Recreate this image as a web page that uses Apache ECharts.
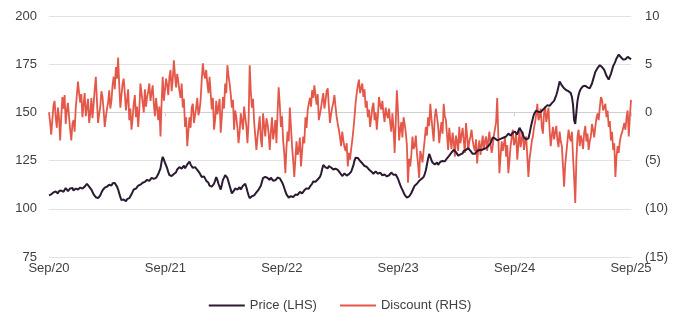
<!DOCTYPE html>
<html>
<head>
<meta charset="utf-8">
<script src="https://cdn.jsdelivr.net/npm/echarts@6/dist/echarts.min.js"></script>
<style>
html,body{margin:0;padding:0;background:#fff;}
#chart{width:680px;height:327px;}
</style>
</head>
<body>
<div id="chart"></div>
<script>
// Year tick labels along the bottom axis (one per year, Sep/20 .. Sep/25)
const tickLabels = ['Sep/20', 'Sep/21', 'Sep/22', 'Sep/23', 'Sep/24', 'Sep/25'];

// Share price (left axis), two observations per week
const price = [
  107,106.2,107.5,108.5,108.5,107.8,109,108.2,108,109.2,108.5,109.5,110,108.8,109.5,110.8,110.5,109.2,109.5,110.6,
  110,110.8,109.5,110.2,110.5,111.2,110,110.6,111,111.8,110.5,111,111.5,112.5,113,112.2,111.5,112,110,109,
  107.5,106.5,106,105,105.5,106.2,107,108.4,109.5,110.5,111,110.2,111.5,112.2,112.5,111.5,112,113.2,114,113.4,
  112.5,111.5,110,108,106,104.5,103.7,104.8,104.5,103.9,105,105.8,105.5,106.5,107.5,108.8,110,109.5,110.5,111.4,
  112,111.5,112.5,113.2,113.5,112.8,114,114.6,115,114,114.5,115.4,116,115,115.5,116.5,116,117,118,119.5,
  121,124.5,127,125.5,124,122.5,121,119,117.5,118.4,117,117.8,118,118.6,119,120.4,121,121.6,122,120.8,
  121.5,122.4,121,122,123,123.8,124.5,123,122,121.2,120.5,121.6,121,120.2,119.5,118.6,118,116.5,115.5,116.8,
  116,114.6,115,113.5,112,112.8,111.5,112.2,113,114.6,116.5,115,113,111.5,110,112.4,115,116.2,117.5,117,
  116,114,112,110,108,108.6,109.5,110.6,111,110,110.5,111.2,110,111,112,112.8,113,111.2,109,107,
  105.5,106.2,106.5,106,107,107.8,108.5,109.2,110,111,112,114,116,115.4,116.5,117,116,115.2,115,116.2,
  115.5,114.6,114,114.8,115.5,116.2,116.5,115.8,115,113.8,112.5,110.8,109,107.5,106.5,105.8,106,106.6,107,106,
  106.5,107.4,108,107.2,108,108.8,108.5,108,109,109.6,110,110.6,111,110.4,111.5,112.2,113,114.2,115,114,
  114.5,115.2,115.5,116.6,118,120.5,122.7,122,121.5,120.6,121,122.2,122,121.4,121,120.4,120,120.8,121,120.2,
  119.5,118.6,118,117,117.5,118.4,118,117.2,117.5,118,118.5,119.2,120,122.5,125,126.5,127.5,126.4,125.5,124.8,
  124.5,123.6,123,122.2,121.5,121.8,121,120.4,120,119.4,119,118.2,118.5,119.4,119,118.2,118.5,118.8,118,117.4,
  117,117.8,117.5,116.8,116.5,117.4,118,118.8,118.5,117.6,118,117.8,117,115.6,114,112.4,111,109.8,108.5,107.2,
  106.5,105.8,105.5,106.4,107,108.2,109.5,110.8,112,112.6,113,113.8,114.5,115,115.5,116.2,116.5,118,120,123,
  126,128.5,127,125.2,124,123.2,123,123.8,124,122.8,123.5,124.4,124,124.8,125.5,124.6,125,126.2,127,127.6,
  128.5,129.2,129.5,130.6,130,129.4,128.5,127.6,127.5,128.2,127.5,128.8,130,129.6,130.5,131.2,131.5,130.8,130,129,
  128.5,129.4,128.5,129.2,130,130.8,130.5,130,130.5,131.2,131,130.6,131.5,132.2,132.5,133.2,134,135.5,137,137.4,
  136.5,135.8,135.5,136.4,136,135.6,136.5,137.2,137,136.6,137.5,138.2,139,138.6,138,138.8,139.5,140.4,140,139.5,
  138.5,140.5,142,141.2,140,138.5,137,136.2,136,135.5,136.5,139,142,144.5,147,149,150,151,150.5,150.2,
  151,150.2,150.5,151.4,152,152.6,153,153.8,154,153.4,154,154.8,155,156,157,159,161,163.5,166,165.2,
  164,163,162.5,161.8,161.5,162.2,161,160.4,160,158,154,146,144,150,156,159,161,162.2,163,163.6,
  163,163.8,164,163,162,162.5,163,165,167,169,171,172,173,174,174.5,174.8,173.5,172.8,172,170.5,
  169,168,167,168.5,170,172,174,175.2,176.5,178,179,180,179.5,178.6,178,177.4,177,177.6,178,178.8,
  178.5,178,177.5
];

// Premium / discount to NAV in % (right axis; negative = discount), two observations per week
const discount = [
  0.0,-1.0,-2.3,-0.8,0.7,1.2,-0.5,-1.6,0.5,-0.6,-2.9,-0.4,1.6,0.4,1.8,-1.2,0.2,1.0,-0.5,-1.8,
  -2.9,-1.2,-0.8,-2.0,0.5,1.8,3.2,2.0,1.0,1.9,-0.5,0.8,2.0,-0.4,0.5,1.4,-1.1,-0.2,1.5,-0.6,
  0.8,2.4,3.7,1.2,-1.1,-0.2,0.6,2.2,1.6,0.2,-1.5,-0.5,0.4,1.0,2.3,0.4,1.2,2.8,3.7,2.4,
  4.7,3.5,5.7,2.8,0.5,1.8,3.0,3.5,2.0,0.2,1.3,2.4,-0.8,0.4,-1.8,-0.6,0.9,1.8,-0.5,0.6,
  -1.5,0.2,3.0,2.0,1.0,0.0,2.4,0.6,1.6,2.2,3.0,1.2,2.0,2.8,0.9,-0.4,1.5,0.4,-0.8,0.6,
  -2.5,1.0,3.7,1.2,2.3,3.5,2.8,1.8,3.7,4.4,2.2,3.4,5.4,3.8,2.6,4.0,3.2,2.2,1.5,3.0,
  0.5,1.4,-1.5,-0.5,-3.5,-2.0,-0.5,-1.6,0.5,0.9,-1.1,-0.3,0.5,1.5,-0.3,0.2,1.3,3.4,5.1,4.0,
  3.5,4.4,3.0,2.0,3.7,2.0,0.3,1.5,-1.8,-0.8,1.2,-0.2,0.5,1.4,-2.1,-0.5,1.6,0.4,3.0,2.0,
  4.9,3.8,3.0,1.9,0.5,1.3,-1.8,0.2,-0.5,-1.6,-3.2,-2.0,-0.1,-0.9,-1.8,0.6,-0.5,-1.4,-3.2,-1.0,
  4.9,2.2,0.5,1.4,-1.0,-2.4,-3.9,-2.6,-1.5,-0.4,-2.8,-3.6,-0.1,-1.4,-2.5,-0.6,-1.2,-2.2,-3.9,-2.0,
  -0.5,-2.8,-2.0,-0.8,-3.2,0.0,2.6,0.8,-1.5,-0.4,-2.9,-4.2,-6.3,-3.6,-2.0,-3.0,0.5,-1.5,-3.5,-5.0,
  -6.7,-4.8,-3.0,-4.4,-3.9,-2.6,-5.6,-4.0,-2.5,-3.2,-0.5,-1.6,0.2,0.9,1.5,0.6,2.3,1.5,2.8,1.8,
  0.8,1.9,-0.8,-0.2,0.5,1.3,2.0,0.4,1.2,2.2,2.5,0.6,-1.1,-0.2,0.5,1.0,1.8,0.6,-0.5,-1.2,
  -1.8,-2.6,-3.5,-2.0,-2.9,-3.6,-4.0,-3.2,-5.6,-4.2,-4.9,-3.8,-2.9,-1.8,-0.5,1.0,2.0,2.8,3.4,2.0,
  2.5,3.0,1.6,2.4,0.5,1.2,-0.5,0.3,-1.5,-0.6,0.5,1.0,-0.8,0.0,-1.8,-0.3,1.6,0.8,0.3,1.2,
  -0.1,-1.0,0.5,-0.2,-0.6,0.4,-1.1,-2.0,-0.1,-1.6,-4.2,-1.0,2.3,0.2,-2.9,-1.8,-1.0,-2.6,-0.5,-1.2,
  -2.1,-3.4,-7.3,-4.8,-5.6,-4.4,-2.5,-3.8,-3.5,-2.4,-4.2,-5.4,-6.8,-4.0,-4.5,-5.2,-3.9,-2.8,-1.5,-2.4,
  -0.5,-1.4,0.9,-0.6,-1.8,-3.0,-0.5,0.4,0.2,-1.4,-3.2,-2.0,-1.0,-2.2,0.9,-0.4,-0.8,-2.4,-3.9,-1.6,
  -2.8,-3.8,-2.1,-3.0,-4.6,-2.4,-3.0,-4.0,-1.5,-3.2,-2.4,-1.6,-2.9,-4.2,-1.1,-2.4,-3.9,-3.0,-2.5,-1.8,
  -2.9,-3.6,-4.0,-2.8,-5.3,-3.8,-2.9,-4.4,-3.4,-2.4,-3.9,-3.0,-2.5,-4.0,-2.9,-2.0,-3.3,-4.2,-3.5,-2.4,
  -2.6,-1.0,1.5,-2.4,-6.3,-4.6,-3.0,-4.0,-3.9,-2.6,-4.6,-3.4,-6.3,-5.0,-3.5,-2.6,-1.8,-3.4,-3.0,-2.2,
  -4.9,-3.4,-1.8,-3.6,-2.8,-2.0,-3.9,-3.0,-2.5,-4.6,-6.7,-4.8,-4.0,-3.0,-2.5,-1.6,-1.0,-0.2,0.9,-0.8,
  -0.5,0.4,-1.5,-2.2,-0.1,0.6,-1.0,-0.3,0.5,-1.8,-3.5,-2.4,-1.5,-2.8,-2.1,-1.4,-2.9,-3.6,-2.0,-3.0,
  -3.5,-5.6,-7.7,-5.4,-4.2,-3.0,-1.8,-2.6,-3.0,-2.0,-4.6,-6.8,-9.4,-5.0,-2.5,-1.8,-3.5,-2.4,-2.9,-3.8,
  -2.1,-1.4,-3.0,-2.2,-3.9,-3.0,-2.5,-1.2,-1.8,-2.6,-1.5,-0.6,-0.1,-0.8,0.5,1.6,1.3,0.2,0.5,0.9,
  -0.5,0.2,-1.5,-0.9,-2.9,-2.0,-3.9,-3.2,-6.7,-4.6,-3.5,-4.2,-3.0,-2.4,-2.1,-1.6,-1.1,-1.8,-0.5,0.2,
  -2.5,-0.4,1.3
];

// Place each observation in years from the first tick (0 = Sep/20, 5 = Sep/25)
const toYears = (arr) => arr.map((v, i) => [i * 5 / (arr.length - 1), v]);

const textColor = '#404040';
const font = 'Liberation Sans, Arial, sans-serif';
const priceColor = '#2b1a31';
const discountColor = '#e4584a';

const chart = echarts.init(document.getElementById('chart'), null, { renderer: 'canvas' });
chart.setOption({
  animation: false,
  backgroundColor: '#ffffff',
  grid: { left: 49, right: 49, top: 16, bottom: 70, containLabel: false },
  legend: {
    bottom: 10,
    left: 'center',
    itemGap: 23,
    itemWidth: 36,
    itemHeight: 2,
    icon: 'rect',
    textStyle: { color: textColor, fontSize: 13, fontFamily: font },
    data: [
      { name: 'Price (LHS)', itemStyle: { color: priceColor } },
      { name: 'Discount (RHS)', itemStyle: { color: discountColor } }
    ]
  },
  xAxis: {
    type: 'value',
    min: 0,
    max: 5,
    interval: 1,
    axisLine: { show: true, lineStyle: { color: '#d0d0d0', width: 1 } },
    axisTick: { show: true, length: 4, lineStyle: { color: '#d0d0d0' } },
    splitLine: { show: false },
    axisLabel: {
      color: textColor, fontSize: 13, fontFamily: font, margin: 5,
      formatter: (v) => tickLabels[Math.round(v)] || ''
    }
  },
  yAxis: [
    {
      type: 'value',
      min: 75, max: 200, interval: 25,
      axisLine: { show: false },
      axisTick: { show: false },
      splitLine: { show: true, lineStyle: { color: '#e2e2e2', width: 1 } },
      axisLabel: { color: textColor, fontSize: 13, fontFamily: font, margin: 12 }
    },
    {
      type: 'value',
      min: -15, max: 10, interval: 5,
      axisLine: { show: false },
      axisTick: { show: false },
      splitLine: { show: false },
      axisLabel: {
        color: textColor, fontSize: 13, fontFamily: font, margin: 14,
        formatter: (v) => v < 0 ? '(' + Math.abs(v) + ')' : String(v)
      }
    }
  ],
  series: [
    {
      name: 'Discount (RHS)',
      type: 'line',
      yAxisIndex: 1,
      data: toYears(discount),
      showSymbol: false,
      lineStyle: { color: discountColor, width: 1.8 },
      itemStyle: { color: discountColor },
      z: 2
    },
    {
      name: 'Price (LHS)',
      type: 'line',
      yAxisIndex: 0,
      data: toYears(price),
      showSymbol: false,
      lineStyle: { color: priceColor, width: 2 },
      itemStyle: { color: priceColor },
      z: 3
    }
  ]
});
</script>
</body>
</html>
